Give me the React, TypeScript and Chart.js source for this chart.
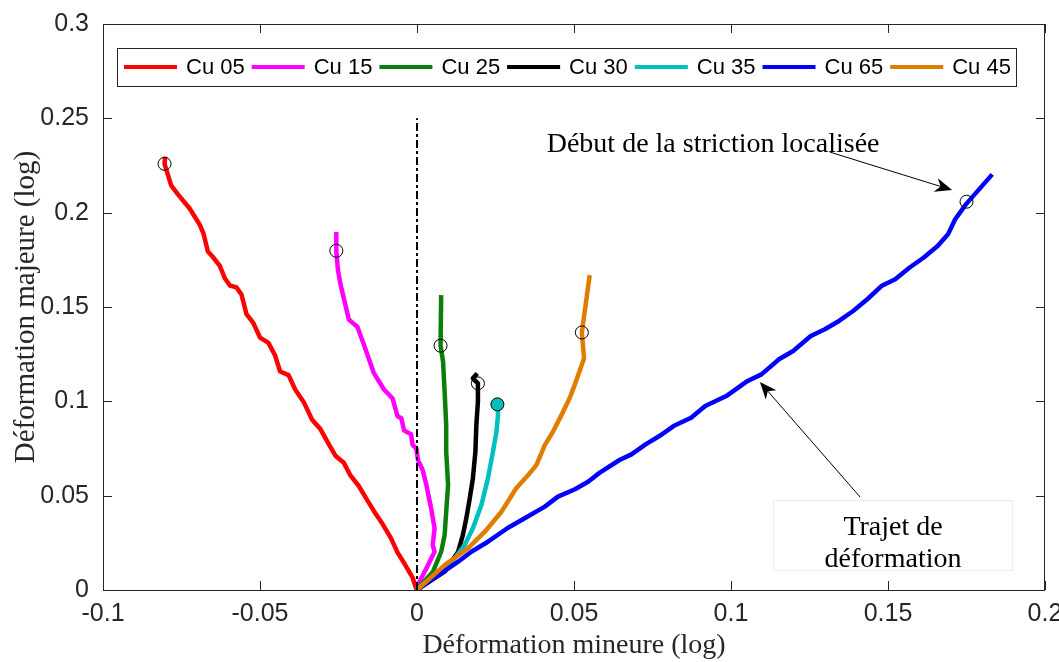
import React, { useEffect, useRef } from "react";
import { Chart, registerables } from "chart.js";

Chart.register(...registerables);

// ---------- data ----------
const seriesNames = ["Cu 05", "Cu 15", "Cu 25", "Cu 30", "Cu 35", "Cu 65", "Cu 45"];
const seriesColors = ["#ff0000", "#ff00ff", "#0b7f0b", "#000000", "#00bfbf", "#0000ff", "#e07c00"];

const cu05X = [0, -0.0003, -0.0014, -0.0041, -0.0062, -0.0083, -0.011, -0.0137, -0.0158, -0.0185, -0.0212, -0.0233, -0.026, -0.0286, -0.0308, -0.0334, -0.0361, -0.0388, -0.0409, -0.0436, -0.0452, -0.0473, -0.05, -0.0521, -0.0543, -0.0559, -0.0575, -0.0596, -0.0612, -0.0628, -0.065, -0.0666, -0.068, -0.0692, -0.0724, -0.0762, -0.0783, -0.0804, -0.0802];
const cu05Y = [0, 0.0009, 0.0066, 0.0142, 0.0199, 0.0275, 0.0351, 0.0418, 0.0475, 0.055, 0.0607, 0.0674, 0.0712, 0.0788, 0.0854, 0.0902, 0.0997, 0.1063, 0.1139, 0.1158, 0.1243, 0.131, 0.1338, 0.1414, 0.1462, 0.1566, 0.1604, 0.1614, 0.1652, 0.1718, 0.1765, 0.1794, 0.189, 0.1936, 0.2022, 0.2098, 0.2145, 0.2259, 0.2297];

const cu15X = [0, 0.0008, 0.003, 0.0056, 0.005, 0.0056, 0.0045, 0.0034, 0.003, 0.0018, 0.0003, -0.0002, -0.0014, -0.0019, -0.0041, -0.005, -0.0062, -0.0078, -0.0105, -0.0137, -0.0169, -0.019, -0.0217, -0.0244, -0.0252, -0.0257, -0.0257];
const cu15Y = [0, 0.0044, 0.0115, 0.0203, 0.0238, 0.0327, 0.0433, 0.0522, 0.0556, 0.0636, 0.069, 0.075, 0.0769, 0.0826, 0.0845, 0.091, 0.0921, 0.1016, 0.1063, 0.1148, 0.13, 0.1395, 0.1433, 0.1623, 0.1699, 0.1798, 0.1898];

const cu25X = [0, 0.0003, 0.0051, 0.0077, 0.0088, 0.0093, 0.0099, 0.0093, 0.0093, 0.0088, 0.0083, 0.0075, 0.0077];
const cu25Y = [0, 0.0009, 0.0097, 0.0203, 0.0291, 0.0415, 0.0556, 0.0733, 0.0874, 0.105, 0.121, 0.1295, 0.1563];

const cu30X = [0, 0.0014, 0.0088, 0.0131, 0.0146, 0.0157, 0.0168, 0.0178, 0.0186, 0.0189, 0.0194, 0.0194, 0.0178, 0.0192];
const cu30Y = [0, 0.0018, 0.0097, 0.0203, 0.0291, 0.038, 0.0486, 0.0592, 0.0733, 0.0874, 0.0998, 0.1095, 0.1122, 0.1148];

const cu35X = [0, 0.0003, 0.0056, 0.012, 0.0152, 0.0178, 0.0205, 0.0226, 0.0242, 0.0253, 0.0258, 0.0256];
const cu35Y = [0, 0.0009, 0.0079, 0.0168, 0.0238, 0.0327, 0.045, 0.0592, 0.0733, 0.0839, 0.0927, 0.0984];

const cu65X = [0, 0.0131, 0.0173, 0.0226, 0.029, 0.0343, 0.0407, 0.0449, 0.0503, 0.0545, 0.0582, 0.0645, 0.0683, 0.0728, 0.0772, 0.0817, 0.0873, 0.0918, 0.0985, 0.1053, 0.1097, 0.1153, 0.1198, 0.1254, 0.1299, 0.1344, 0.1389, 0.1434, 0.1479, 0.1523, 0.1568, 0.1613, 0.1658, 0.1691, 0.1714, 0.1748, 0.1832];
const cu65Y = [0, 0.015, 0.0203, 0.0256, 0.033, 0.038, 0.0442, 0.0495, 0.0534, 0.0574, 0.0622, 0.0689, 0.0719, 0.0772, 0.0816, 0.0869, 0.0913, 0.0975, 0.1028, 0.1108, 0.1143, 0.1223, 0.1267, 0.1346, 0.1382, 0.1426, 0.1479, 0.1541, 0.1611, 0.1647, 0.1708, 0.1761, 0.1823, 0.1885, 0.1965, 0.2044, 0.2203];

const cu45X = [0, 0.0088, 0.0162, 0.0216, 0.0269, 0.0316, 0.0354, 0.038, 0.0407, 0.0433, 0.046, 0.0486, 0.0502, 0.0523, 0.0532, 0.0525, 0.055];
const cu45Y = [0, 0.0132, 0.0221, 0.0309, 0.0415, 0.0539, 0.0609, 0.0662, 0.0768, 0.0839, 0.0927, 0.1016, 0.1086, 0.1184, 0.1228, 0.1365, 0.1669];

// onset of localized necking (circles), in legend order
const onsetX = [-0.0804, -0.0257, 0.0075, 0.0194, 0.0256, 0.175, 0.0525];
const onsetY = [0.2259, 0.1798, 0.1295, 0.1095, 0.0984, 0.2058, 0.1365];

// plane-strain reference line
const refLineX = [0, 0];
const refLineY = [0, 0.25];

const xTickValues = [-0.1, -0.05, 0, 0.05, 0.1, 0.15, 0.2];
const xTickLabels = ["-0.1", "-0.05", "0", "0.05", "0.1", "0.15", "0.2"];
const yTickValues = [0, 0.05, 0.1, 0.15, 0.2, 0.25, 0.3];
const yTickLabels = ["0", "0.05", "0.1", "0.15", "0.2", "0.25", "0.3"];

const xTitle = "Déformation mineure (log)";
const yTitle = "Déformation majeure (log)";
const note1 = "Début de la striction localisée";
const note2 = ["Trajet de", "déformation"];
// annotation anchors in data units
const note1Pos = [0.0943, 0.2321];
const arrow1 = [0.1315, 0.2321, 0.1704, 0.212];
const note2Pos = [0.1516, 0.0291, 0.0122];
const note2Box = [0.1134, 0.0477, 0.1895, 0.0106];
const arrow2 = [0.1411, 0.0493, 0.1092, 0.1102];

const seriesX = [cu05X, cu15X, cu25X, cu30X, cu35X, cu65X, cu45X];
const seriesY = [cu05Y, cu15Y, cu25Y, cu30Y, cu35Y, cu65Y, cu45Y];
const seriesOrder = [7, 6, 5, 4, 3, 2, 1];

const AXIS_COLOR = "#262626";
const SANS = "'Liberation Sans', Arial, sans-serif";
const SERIF = "'Liberation Serif', 'Times New Roman', serif";

function zip(xs: number[], ys: number[]) {
  return xs.map((x, i) => ({ x, y: ys[i] }));
}

function drawArrow(ctx: CanvasRenderingContext2D, x1: number, y1: number, x2: number, y2: number) {
  const ang = Math.atan2(y2 - y1, x2 - x1);
  const len = 17, hw = 7, indent = 5;
  const dx = Math.cos(ang), dy = Math.sin(ang);
  const px = -dy, py = dx;
  const bx = x2 - len * dx, by = y2 - len * dy;
  const ix = x2 - (len - indent) * dx, iy = y2 - (len - indent) * dy;
  ctx.beginPath();
  ctx.moveTo(x1, y1);
  ctx.lineTo(ix, iy);
  ctx.lineWidth = 1;
  ctx.strokeStyle = "#000";
  ctx.stroke();
  ctx.beginPath();
  ctx.moveTo(x2, y2);
  ctx.lineTo(bx + hw * px, by + hw * py);
  ctx.lineTo(ix, iy);
  ctx.lineTo(bx - hw * px, by - hw * py);
  ctx.closePath();
  ctx.fillStyle = "#000";
  ctx.fill();
}

const framePlugin = {
  id: "matlabFrame",
  beforeDatasetsDraw(chart: any) {
    const { ctx, chartArea: a, scales } = chart;
    ctx.save();
    ctx.strokeStyle = AXIS_COLOR;
    ctx.lineWidth = 1;
    ctx.strokeRect(a.left + 0.5, a.top + 0.5, a.right - a.left - 1, a.bottom - a.top);
    const tl = 9;
    ctx.beginPath();
    scales.x.ticks.forEach((t: any) => {
      const p = Math.round(scales.x.getPixelForValue(t.value)) + 0.5;
      ctx.moveTo(p, a.bottom);
      ctx.lineTo(p, a.bottom - tl);
      ctx.moveTo(p, a.top);
      ctx.lineTo(p, a.top + tl);
    });
    scales.y.ticks.forEach((t: any) => {
      const p = Math.round(scales.y.getPixelForValue(t.value)) + 0.5;
      ctx.moveTo(a.left, p);
      ctx.lineTo(a.left + tl, p);
      ctx.moveTo(a.right, p);
      ctx.lineTo(a.right - tl, p);
    });
    ctx.stroke();
    ctx.restore();
  },
  afterDatasetsDraw(chart: any) {
    const { ctx, scales } = chart;
    const X = (v: number) => scales.x.getPixelForValue(v);
    const Y = (v: number) => scales.y.getPixelForValue(v);
    ctx.save();
    ctx.font = `28px ${SERIF}`;
    ctx.fillStyle = "#000";
    ctx.textAlign = "center";
    ctx.textBaseline = "alphabetic";
    ctx.fillText(note1, X(note1Pos[0]), Y(note1Pos[1]));
    drawArrow(ctx, X(arrow1[0]), Y(arrow1[1]), X(arrow1[2]), Y(arrow1[3]));
    ctx.strokeStyle = "#ededed";
    ctx.lineWidth = 1;
    const bx1 = Math.round(X(note2Box[0])) + 0.5, by1 = Math.round(Y(note2Box[1])) + 0.5;
    const bx2 = Math.round(X(note2Box[2])) + 0.5, by2 = Math.round(Y(note2Box[3])) + 0.5;
    ctx.fillStyle = "#fff";
    ctx.fillRect(bx1, by1, bx2 - bx1, by2 - by1);
    ctx.strokeRect(bx1, by1, bx2 - bx1, by2 - by1);
    ctx.fillStyle = "#000";
    ctx.fillText(note2[0], X(note2Pos[0]), Y(note2Pos[1]));
    ctx.fillText(note2[1], X(note2Pos[0]), Y(note2Pos[2]));
    drawArrow(ctx, X(arrow2[0]), Y(arrow2[1]), X(arrow2[2]), Y(arrow2[3]));
    ctx.restore();
  },
  afterDraw(chart: any) {
    const { ctx, chartArea: a } = chart;
    ctx.save();
    const boxL = a.left + 14, boxT = a.top + 24, boxH = 38;
    ctx.font = `22px ${SANS}`;
    ctx.textBaseline = "middle";
    ctx.textAlign = "left";
    let x = boxL + 7;
    const cy = boxT + boxH / 2;
    const items: { x: number; w: number }[] = [];
    seriesNames.forEach((n) => {
      const w = ctx.measureText(n).width;
      items.push({ x, w });
      x += 53 + 9 + w + 7;
    });
    const boxR = x - 7 + 5;
    ctx.fillStyle = "#fff";
    ctx.fillRect(boxL, boxT, boxR - boxL, boxH);
    ctx.strokeStyle = AXIS_COLOR;
    ctx.lineWidth = 1;
    ctx.strokeRect(Math.round(boxL) + 0.5, Math.round(boxT) + 0.5, Math.round(boxR - boxL), boxH);
    seriesNames.forEach((n, i) => {
      const it = items[i];
      ctx.beginPath();
      ctx.moveTo(it.x, cy);
      ctx.lineTo(it.x + 53, cy);
      ctx.strokeStyle = seriesColors[i];
      ctx.lineWidth = 4;
      ctx.stroke();
      ctx.fillStyle = "#000";
      ctx.fillText(n, it.x + 62, cy + 1);
    });
    ctx.restore();
  },
};

export default function App() {
  const ref = useRef<HTMLCanvasElement | null>(null);
  useEffect(() => {
    if (!ref.current) return;
    const datasets: any[] = seriesNames.map((name, i) => ({
      label: name,
      data: zip(seriesX[i], seriesY[i]),
      showLine: true,
      borderColor: seriesColors[i],
      backgroundColor: seriesColors[i],
      borderWidth: 4.5,
      pointRadius: 0,
      tension: 0,
      borderJoinStyle: "round",
      order: seriesOrder[i],
    }));
    datasets.push({
      label: "ref",
      data: zip(refLineX, refLineY),
      showLine: true,
      borderColor: "#000",
      borderWidth: 2,
      borderDash: [8, 3, 3, 3],
      pointRadius: 0,
      order: 0,
    });
    datasets.push({
      label: "onset",
      data: zip(onsetX, onsetY),
      showLine: false,
      pointRadius: 6.5,
      pointBorderWidth: 1,
      pointBorderColor: "#000",
      pointBackgroundColor: seriesNames.map((_, i) => (i === 4 ? seriesColors[4] : "rgba(0,0,0,0)")),
      order: -1,
    });
    const tickFont = { family: SANS, size: 25 };
    const chart = new Chart(ref.current, {
      type: "scatter",
      data: { datasets },
      plugins: [framePlugin],
      options: {
        responsive: false,
        animation: false,
        layout: { padding: { top: 24, right: 14, left: 0, bottom: 0 } },
        plugins: { legend: { display: false }, tooltip: { enabled: false } },
        scales: {
          x: {
            type: "linear",
            min: -0.1,
            max: 0.2,
            grid: { display: false, drawTicks: false },
            border: { display: false },
            afterBuildTicks: (s: any) => {
              s.ticks = xTickValues.map((v) => ({ value: v }));
            },
            afterFit: (s: any) => {
              s.height = 72;
              s.paddingLeft = 0;
              s.paddingRight = 0;
            },
            ticks: {
              autoSkip: false,
              maxRotation: 0,
              padding: 9,
              color: AXIS_COLOR,
              font: tickFont,
              callback: (_v: any, i: number) => xTickLabels[i],
            },
            title: {
              display: true,
              text: xTitle,
              color: AXIS_COLOR,
              font: { family: SERIF, size: 28 },
              padding: { top: 0, bottom: 0 },
            },
          },
          y: {
            type: "linear",
            min: 0,
            max: 0.3,
            grid: { display: false, drawTicks: false },
            border: { display: false },
            afterBuildTicks: (s: any) => {
              s.ticks = yTickValues.map((v) => ({ value: v }));
            },
            afterFit: (s: any) => {
              s.width = 103;
              s.paddingTop = 0;
              s.paddingBottom = 0;
            },
            ticks: {
              autoSkip: false,
              padding: 14,
              color: AXIS_COLOR,
              font: tickFont,
              callback: (_v: any, i: number) => yTickLabels[i],
            },
            title: {
              display: true,
              text: yTitle,
              color: AXIS_COLOR,
              font: { family: SERIF, size: 29 },
              padding: { top: 9, bottom: 0 },
            },
          },
        },
      } as any,
    });
    return () => chart.destroy();
  }, []);
  return (
    <div style={{ position: "fixed", left: 0, top: 0, width: 1059, height: 662, background: "#fff" }}>
      <canvas ref={ref} width={1059} height={662} style={{ display: "block" }} />
    </div>
  );
}
